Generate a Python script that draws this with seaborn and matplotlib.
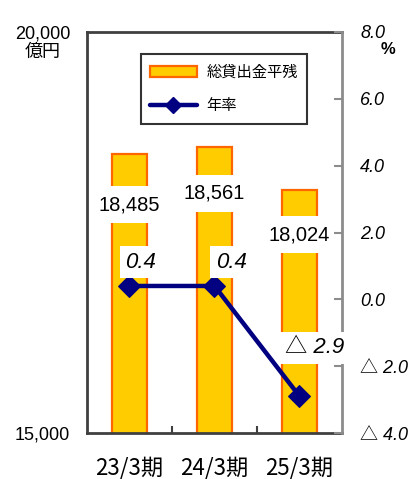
import numpy as np
import pandas as pd
import matplotlib
matplotlib.use('Agg')
import matplotlib.pyplot as plt
import seaborn as sns
from matplotlib.patches import Patch
from matplotlib.lines import Line2D
from matplotlib.ticker import FuncFormatter

# data
periods = ['23/3期', '24/3期', '25/3期']
balance = [18485, 18561, 18024]          # 総貸出金平残 (億円)
rate = [0.4, 0.4, -2.9]                  # 年率 (%)
balance_labels = ['18,485', '18,561', '18,024']
rate_labels = ['0.4', '0.4', '△ 2.9']

sns.set_style('white')
plt.rcParams['font.family'] = ['Liberation Sans', 'Noto Sans CJK JP']
plt.rcParams['text.color'] = 'black'
plt.rcParams['xtick.labelcolor'] = 'black'
plt.rcParams['ytick.labelcolor'] = 'black'

bar_face = '#FFCC00'
bar_edge = '#FF6600'
navy = '#000080'

fig = plt.figure(figsize=(4.17, 4.79), dpi=100)
ax = fig.add_axes([87 / 417, 46 / 479, 255 / 417, 401 / 479])

df = pd.DataFrame({'period': periods, 'balance': balance, 'rate': rate})
sns.barplot(data=df, x='period', y='balance', color=bar_face, saturation=1,
            edgecolor=bar_edge, linewidth=1.6, width=0.41, ax=ax)
ax.set_ylim(15000, 20000)
ax.set_xlim(-0.5, 2.5)
ax.set_yticks([15000, 20000])
ax.set_yticklabels(['15,000', '20,000'], fontsize=13)
ax.tick_params(axis='y', length=0, pad=12)
ax.set_xlabel('')
ax.set_ylabel('')
ax.set_xticks([0, 1, 2])
ax.set_xticklabels(periods, fontsize=16, family='Noto Sans CJK JP')
ax.tick_params(axis='x', which='major', length=0, pad=17)
ax.set_xticks([0.5, 1.5], minor=True)
ax.tick_params(axis='x', which='minor', direction='in', length=5,
               width=1.5, color='#404040', bottom=True)

for s in ['left', 'top', 'bottom']:
    ax.spines[s].set_color('#404040')
    ax.spines[s].set_linewidth(2)
ax.spines['right'].set_visible(False)

# bar value labels
bar_offsets = [-37, -33, -32]
for i, (v, t) in enumerate(zip(balance, balance_labels)):
    ax.annotate(t, (i, v), xytext=(0, bar_offsets[i]), textcoords='offset points',
                ha='center', va='center', fontsize=14.5, color='black',
                bbox=dict(boxstyle='square,pad=0.45', fc='white', ec='none'))

# rate line on second axis
ax2 = ax.twinx()
sns.lineplot(x=np.arange(len(rate)), y=rate, color=navy, linewidth=3.2,
             marker='D', markersize=11, markeredgecolor=navy, ax=ax2)
ax2.set_ylim(-4, 8)
ax2.set_yticks(np.arange(-4, 8.1, 2))
ax2.yaxis.set_major_formatter(FuncFormatter(
    lambda v, p: '△ %.1f' % abs(v) if v < 0 else '%.1f' % v))
ax2.tick_params(axis='y', direction='in', length=6, width=1.5, color='#8c8c8c',
                pad=13, labelsize=13)
for lab in ax2.get_yticklabels():
    lab.set_fontstyle('italic')
for s in ['left', 'top', 'bottom']:
    ax2.spines[s].set_visible(False)
ax2.spines['right'].set_color('#8c8c8c')
ax2.spines['right'].set_linewidth(2)
ax2.set_ylabel('')

rate_offsets = [(8, 17), (12, 17), (11, 35)]
for i, (v, t) in enumerate(zip(rate, rate_labels)):
    ax2.annotate(t, (i, v), xytext=rate_offsets[i], textcoords='offset points',
                 ha='center', va='center', fontsize=16, style='italic',
                 color='black',
                 bbox=dict(boxstyle='square,pad=0.25', fc='white', ec='none'))

# legend
handles = [Patch(facecolor=bar_face, edgecolor=bar_edge, linewidth=1.6),
           Line2D([], [], color=navy, linewidth=3.2, marker='D', markersize=8)]
leg = ax2.legend(handles, ['総貸出金平残', '年率'], loc='upper left',
                 bbox_to_anchor=(0.18, 0.963), handlelength=3.1,
                 labelspacing=1.1, borderpad=0.6, handletextpad=0.6,
                 fancybox=False,
                 prop={'family': 'Noto Sans CJK JP', 'size': 11})
leg.get_frame().set_edgecolor('black')
leg.get_frame().set_linewidth(1.5)

# unit labels
fig.text(43 / 417, 1 - 52 / 479, '億円', ha='center', va='center',
         fontsize=13, family='Noto Sans CJK JP')
fig.text(388 / 417, 1 - 50 / 479, '%', ha='center', va='center',
         fontsize=12, fontweight='bold')

fig.savefig('out.png', dpi=100)
